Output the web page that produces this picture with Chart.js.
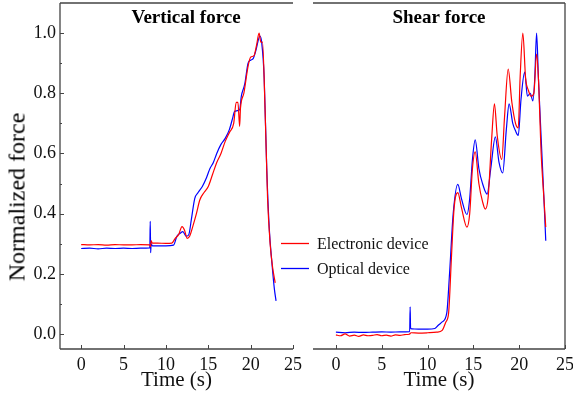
<!DOCTYPE html>
<html>
<head>
<meta charset="utf-8">
<script src="https://cdn.jsdelivr.net/npm/chart.js@4/dist/chart.umd.min.js"></script>
<style>
  html, body { margin: 0; padding: 0; background: #fff; }
  #wrap { position: relative; width: 573px; height: 399px; font-family: "Liberation Serif", serif; }
  #wrap canvas { position: absolute; left: 0; top: 0; }
  .ylab { position: absolute; left: 17px; top: 197px; transform: translate(-50%, -50%) rotate(-90deg);
          font-size: 24px; white-space: nowrap; color: #000; }
</style>
</head>
<body>
<div id="wrap">
  <canvas id="left" width="573" height="399"></canvas>
  <canvas id="right" width="573" height="399"></canvas>
  <div class="ylab">Normalized force</div>
</div>
<script>
// vertical force panel
var vertElecT = [0, 1, 2, 3, 4, 5, 6, 7, 8.1, 8.2, 8.25, 8.4, 9, 10, 10.7, 11.1, 11.5, 11.9, 12.2, 12.5, 12.8, 13.2, 13.6, 14.0, 14.5, 15.0, 15.5, 16.0, 16.5, 17.0, 17.5, 18.0, 18.3, 18.5, 18.7, 18.8, 19.2, 19.7, 20.0, 20.4, 20.7, 21.0, 21.2, 21.4, 21.7, 22.0, 22.3, 22.6, 22.9];
var vertElecF = [0.297, 0.296, 0.297, 0.295, 0.297, 0.296, 0.296, 0.297, 0.296, 0.29, 0.31, 0.302, 0.302, 0.301, 0.302, 0.318, 0.33, 0.357, 0.345, 0.318, 0.325, 0.36, 0.40, 0.445, 0.47, 0.49, 0.53, 0.57, 0.60, 0.64, 0.67, 0.70, 0.77, 0.77, 0.69, 0.75, 0.80, 0.89, 0.92, 0.925, 0.96, 1.0, 0.97, 0.97, 0.75, 0.45, 0.30, 0.22, 0.17];
var vertOptT = [0, 1, 2, 3, 4, 5, 6, 7, 8.1, 8.15, 8.2, 8.25, 8.4, 9, 10, 10.9, 11.3, 11.7, 12.0, 12.4, 12.7, 13.0, 13.4, 13.8, 14.3, 14.8, 15.2, 15.6, 16.0, 16.5, 17.0, 17.5, 17.9, 18.1, 18.7, 18.9, 19.3, 19.7, 20.0, 20.3, 20.6, 21.1, 21.3, 21.6, 21.9, 22.2, 22.5, 22.8, 23.0];
var vertOptF = [0.284, 0.285, 0.283, 0.285, 0.284, 0.285, 0.284, 0.285, 0.286, 0.374, 0.27, 0.30, 0.293, 0.293, 0.293, 0.295, 0.325, 0.335, 0.34, 0.325, 0.33, 0.38, 0.45, 0.47, 0.49, 0.52, 0.55, 0.57, 0.60, 0.63, 0.65, 0.68, 0.72, 0.74, 0.745, 0.79, 0.83, 0.90, 0.91, 0.915, 0.94, 0.99, 0.97, 0.85, 0.55, 0.35, 0.24, 0.15, 0.11];

// shear force panel
var shearElecT = [0, 0.5, 1, 1.5, 2, 2.5, 3, 3.5, 4, 4.5, 5, 5.5, 6, 6.5, 7, 7.5, 8, 8.2, 9, 10, 11, 11.6, 12.0, 12.3, 12.6, 12.9, 13.3, 13.7, 14.3, 14.6, 14.9, 15.2, 15.6, 16.0, 16.3, 16.6, 17.0, 17.3, 17.6, 18.1, 18.4, 18.8, 19.2, 19.6, 19.9, 20.1, 20.4, 20.7, 21.0, 21.3, 21.6, 21.9, 22.1, 22.4, 22.7, 22.9];
var shearElecF = [-0.003, -0.006, 0.0, -0.007, -0.004, -0.008, -0.003, -0.006, -0.005, -0.002, -0.006, -0.004, -0.007, -0.003, -0.005, -0.002, -0.001, 0.004, 0.003, 0.004, 0.006, 0.012, 0.04, 0.07, 0.25, 0.42, 0.47, 0.42, 0.355, 0.40, 0.55, 0.605, 0.50, 0.44, 0.415, 0.45, 0.65, 0.765, 0.66, 0.58, 0.72, 0.88, 0.77, 0.70, 0.685, 0.85, 1.0, 0.85, 0.81, 0.79, 0.80, 0.93, 0.85, 0.60, 0.45, 0.355];
var shearOptT = [0, 1, 2, 3, 4, 5, 6, 7, 8.05, 8.1, 8.15, 8.3, 9, 10, 10.8, 11.2, 11.6, 12.1, 12.4, 12.8, 13.3, 13.7, 14.3, 14.6, 14.9, 15.2, 15.6, 16.0, 16.5, 16.9, 17.4, 17.8, 18.2, 18.6, 18.9, 19.3, 19.6, 19.9, 20.2, 20.6, 20.9, 21.2, 21.5, 21.7, 21.9, 22.1, 22.4, 22.7, 22.9];
var shearOptF = [0.006, 0.004, 0.006, 0.005, 0.006, 0.007, 0.006, 0.007, 0.008, 0.09, 0.02, 0.017, 0.016, 0.016, 0.018, 0.03, 0.04, 0.07, 0.2, 0.40, 0.497, 0.45, 0.397, 0.45, 0.58, 0.645, 0.55, 0.50, 0.465, 0.55, 0.655, 0.57, 0.535, 0.68, 0.765, 0.70, 0.675, 0.66, 0.78, 0.87, 0.79, 0.80, 0.775, 0.85, 1.0, 0.85, 0.65, 0.45, 0.31];

var seriesNames = ['Electronic device', 'Optical device'];
var xTickValues = [0, 5, 10, 15, 20, 25];
var yTickValues = [0, 0.2, 0.4, 0.6, 0.8, 1.0];
var yMinorValues = [0.1, 0.3, 0.5, 0.7, 0.9];

var RED = '#ff0000';
var BLUE = '#0000ff';
var AXIS = '#444';

Chart.defaults.font.family = '"Liberation Serif", "Times New Roman", serif';
Chart.defaults.color = '#111';

var pts = function (t, f) {
  return t.map(function (x, i) { return { x: x, y: f[i] }; });
};

// frame lines, inward tick marks, the title inside the plot box and the legend
var framePlugin = {
  id: 'frame',
  afterDraw: function (chart, args, opts) {
    var ctx = chart.ctx, a = chart.chartArea;
    var xs = chart.scales.x, ys = chart.scales.y;
    ctx.save();
    ctx.strokeStyle = AXIS;
    ctx.lineWidth = 1.3;
    ctx.beginPath();
    if (opts.sides.indexOf('top') >= 0) { ctx.moveTo(a.left, a.top); ctx.lineTo(a.right, a.top); }
    if (opts.sides.indexOf('bottom') >= 0) { ctx.moveTo(a.left, a.bottom); ctx.lineTo(a.right, a.bottom); }
    if (opts.sides.indexOf('left') >= 0) { ctx.moveTo(a.left, a.top); ctx.lineTo(a.left, a.bottom); }
    if (opts.sides.indexOf('right') >= 0) { ctx.moveTo(a.right, a.top); ctx.lineTo(a.right, a.bottom); }
    ctx.stroke();

    ctx.lineWidth = 1;
    ctx.beginPath();
    xTickValues.forEach(function (v) {
      var px = Math.round(xs.getPixelForValue(v)) + 0.5;
      ctx.moveTo(px, a.bottom); ctx.lineTo(px, a.bottom - 4);
    });
    if (opts.yTicks) {
      yTickValues.forEach(function (v) {
        var py = Math.round(ys.getPixelForValue(v)) + 0.5;
        ctx.moveTo(a.left, py); ctx.lineTo(a.left + 4, py);
      });
      yMinorValues.forEach(function (v) {
        var py = Math.round(ys.getPixelForValue(v)) + 0.5;
        ctx.moveTo(a.left, py); ctx.lineTo(a.left + 2, py);
      });
    }
    ctx.stroke();

    ctx.fillStyle = '#000';
    ctx.font = 'bold 19px "Liberation Serif"';
    ctx.textAlign = 'center';
    ctx.textBaseline = 'alphabetic';
    ctx.fillText(opts.title, opts.titleX, a.top + 20);

    // legend, straddling the gap between the two panels
    if (opts.legend) {
      ctx.font = '16px "Liberation Serif"';
      ctx.textAlign = 'left';
      ctx.textBaseline = 'middle';
      ctx.lineWidth = 1.3;
      chart.data.datasets.forEach(function (ds, i) {
        var y = 243.5 + i * 25;
        ctx.strokeStyle = ds.borderColor;
        ctx.beginPath();
        ctx.moveTo(281, y); ctx.lineTo(309, y);
        ctx.stroke();
        ctx.fillStyle = '#111';
        ctx.fillText(ds.label, 317, y + 1);
      });
    }
    ctx.restore();
  }
};

var makeChart = function (id, elec, opt, cfg) {
  return new Chart(document.getElementById(id), {
    type: 'line',
    data: {
      datasets: [
        { label: seriesNames[0], data: elec, borderColor: RED },
        { label: seriesNames[1], data: opt, borderColor: BLUE }
      ]
    },
    options: {
      responsive: false,
      animation: false,
      layout: { padding: cfg.padding },
      elements: {
        point: { radius: 0 },
        line: { borderWidth: 1.2, cubicInterpolationMode: 'monotone' }
      },
      plugins: {
        legend: { display: false },
        tooltip: { enabled: false },
        frame: { sides: cfg.sides, yTicks: cfg.yTicks, title: cfg.title, titleX: cfg.titleX, legend: cfg.legend }
      },
      scales: {
        x: {
          type: 'linear',
          min: -2.5,
          max: 25,
          grid: { display: false, drawTicks: false },
          border: { display: false },
          ticks: { stepSize: 5, includeBounds: false, padding: 5, font: { size: 18 }, color: '#111' },
          afterFit: function (s) {
            s.height = 50;
            s.paddingLeft = 0;
            s.paddingRight = 0;
          },
          title: { display: true, text: 'Time (s)', font: { size: 21 }, color: '#111', padding: { top: 0, bottom: 6 } }
        },
        y: {
          type: 'linear',
          min: -0.05,
          max: 1.1,
          display: cfg.yTicks,
          grid: { display: false, drawTicks: false },
          border: { display: false },
          ticks: {
            stepSize: 0.2, includeBounds: false, padding: 4, font: { size: 18 }, color: '#111',
            callback: function (v) { return v.toFixed(1); }
          },
          afterBuildTicks: function (s) {
            s.ticks = s.ticks.filter(function (t) { return t.value >= -0.001 && t.value <= 1.001; });
          },
          afterFit: function (s) {
            s.width = cfg.yTicks ? 60 : 0;
            s.paddingTop = 0;
            s.paddingBottom = 0;
          }
        }
      }
    },
    plugins: [framePlugin]
  });
};

makeChart('left', pts(vertElecT, vertElecF), pts(vertOptT, vertOptF), {
  padding: { left: 0, right: 280, top: 3, bottom: 0 },
  sides: ['top', 'bottom', 'left'],
  yTicks: true,
  title: 'Vertical force',
  titleX: 186,
  legend: false
});

makeChart('right', pts(shearElecT, shearElecF), pts(shearOptT, shearOptF), {
  padding: { left: 313, right: 8, top: 3, bottom: 0 },
  sides: ['top', 'bottom', 'right'],
  yTicks: false,
  title: 'Shear force',
  titleX: 439,
  legend: true
});
</script>
</body>
</html>
